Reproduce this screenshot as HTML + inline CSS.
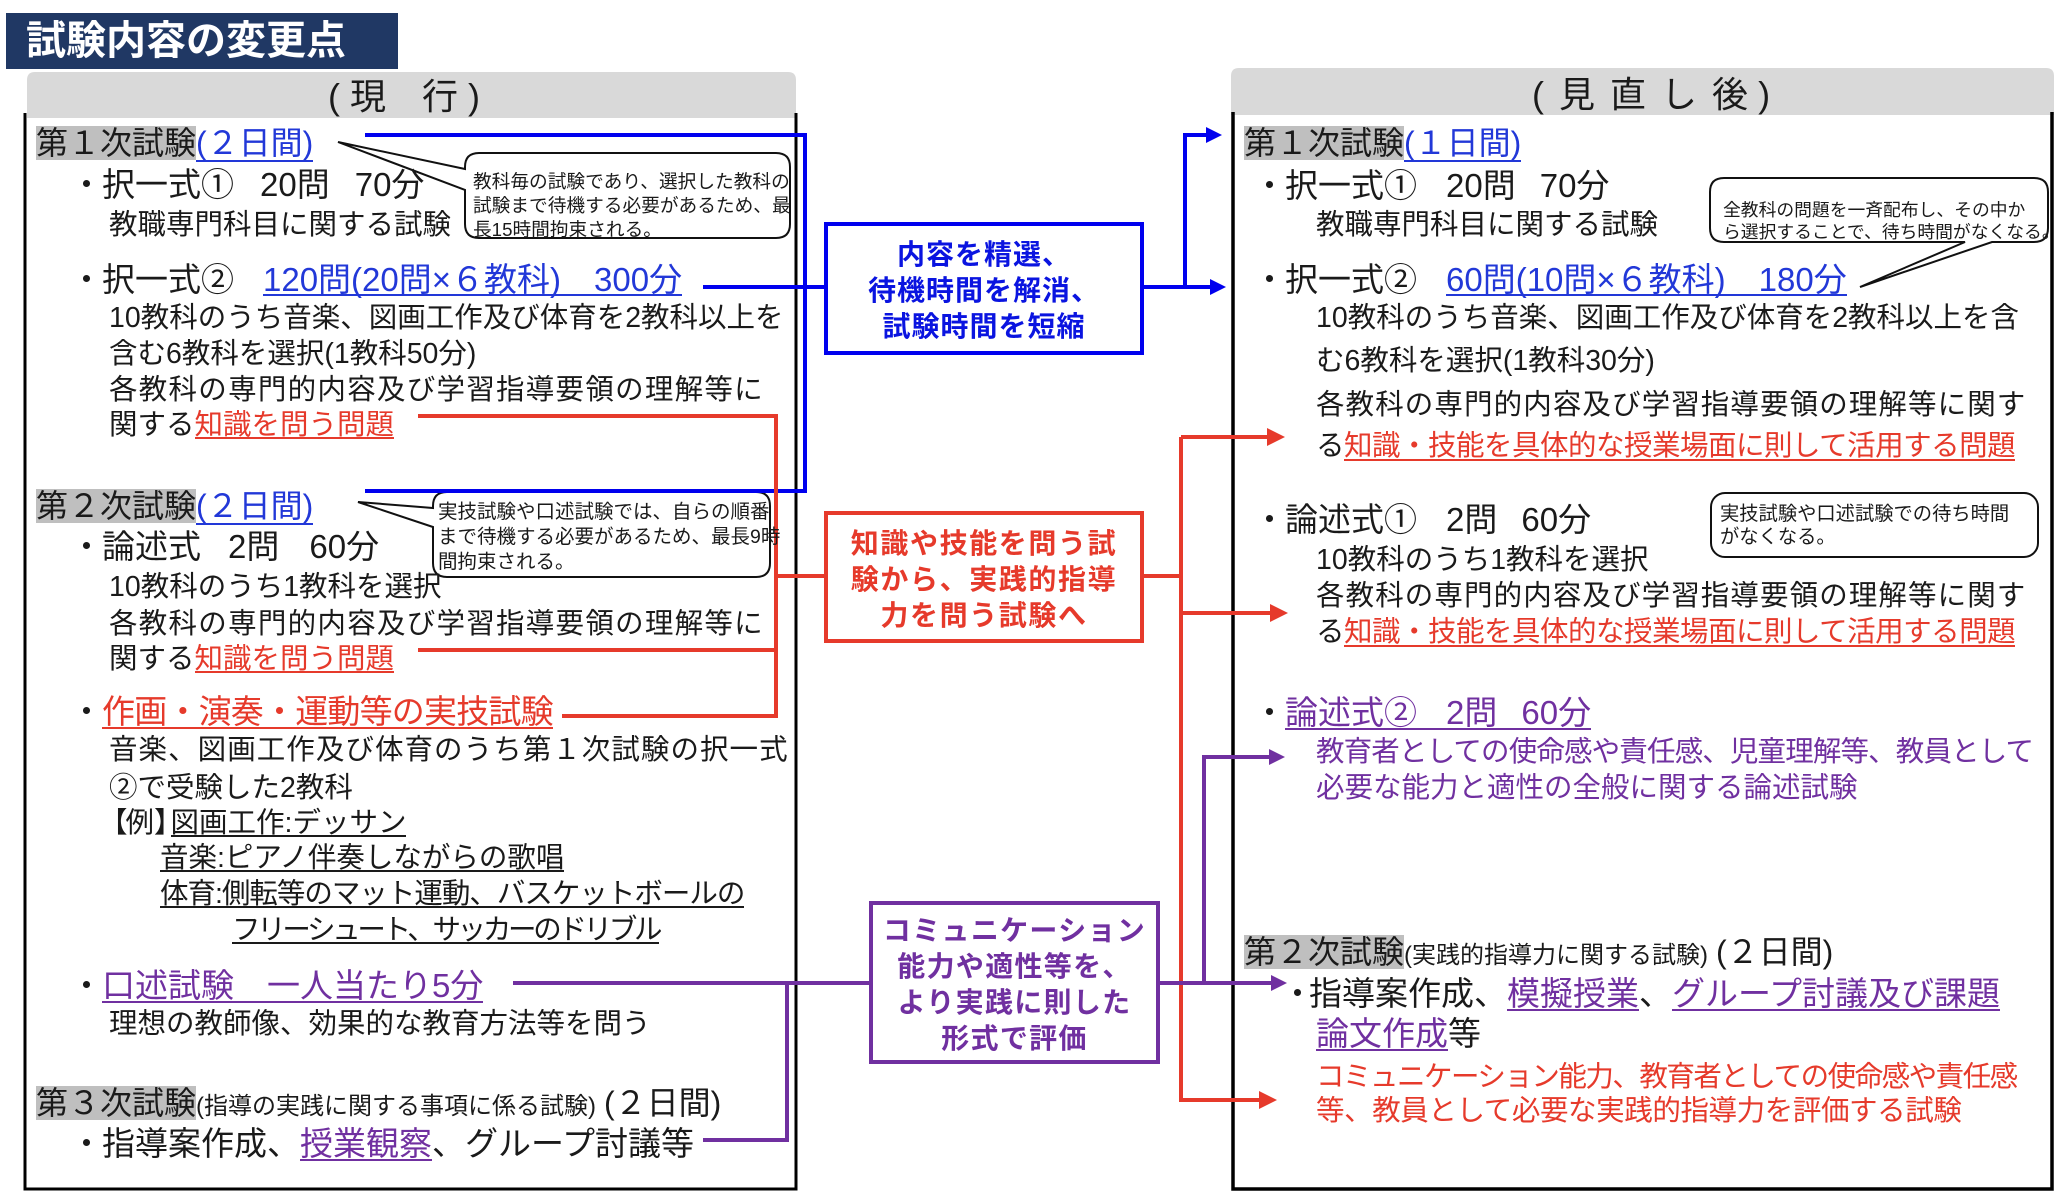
<!DOCTYPE html>
<html><head><meta charset="utf-8">
<style>
body{margin:0;}
#p{position:relative;width:2064px;height:1197px;overflow:hidden;background:#fff;font-family:"Liberation Sans","Noto Sans CJK JP",sans-serif;color:#1a1a1a}
svg{position:absolute;left:0;top:0}
.t{position:absolute;white-space:nowrap}
.h{font-size:32px;line-height:40px}
.i{font-size:33px;line-height:40px}
.b{font-size:28.5px;line-height:36px}
.g{display:inline-block;background:#bfbfbf;height:34px;line-height:34px}
.u{display:inline-block;border-bottom:2px solid currentColor}
.bl{position:absolute;left:-32px;color:#1a1a1a}
.B{color:#2238d8}.R{color:#e63a2b}.P{color:#7030a0}
.sm{font-size:24px}
.box{position:absolute;text-align:center;font-weight:bold;font-size:28px;line-height:36px;white-space:nowrap}
.c{position:absolute;white-space:nowrap;color:#1a1a1a}
</style></head>
<body><div id="p">
<svg width="2064" height="1197" viewBox="0 0 2064 1197">
  <rect x="6" y="13" width="392" height="56" fill="#203864"/>
  <path d="M27,118 V80 Q27,72 35,72 H788 Q796,72 796,80 V118 Z" fill="#d9d9d9"/>
  <path d="M1231,115 V76 Q1231,68 1239,68 H2046 Q2054,68 2054,76 V115 Z" fill="#d9d9d9"/>
  <path d="M25,113 V1189 H796 V113" fill="none" stroke="#000" stroke-width="3"/>
  <path d="M1233,112 V1189 H2052 V112" fill="none" stroke="#000" stroke-width="3.5"/>

  <!-- callouts -->
  <path d="M479,153 H776 Q790,153 790,167 V224 Q790,238 776,238 H479 Q465,238 465,224 V190 L338,142 L465,169 V167 Q465,153 479,153 Z" fill="#fff" stroke="#111" stroke-width="2"/>
  <path d="M447,492 H756 Q770,492 770,506 V563 Q770,577 756,577 H447 Q433,577 433,563 V527 L358,502 L433,508 V506 Q433,492 447,492 Z" fill="#fff" stroke="#111" stroke-width="2"/>
  <path d="M1724,178 H2034 Q2048,178 2048,192 V228 Q2048,242 2034,242 H1992 L1860,287 L1965,242 H1724 Q1710,242 1710,228 V192 Q1710,178 1724,178 Z" fill="#fff" stroke="#111" stroke-width="2"/>
  <rect x="1711" y="493" width="327" height="64" rx="14" fill="#fff" stroke="#111" stroke-width="2"/>

  <!-- blue -->
  <g stroke="#0000ee" stroke-width="4" fill="none">
    <polyline points="365,135 805,135 805,491 365,491"/>
    <line x1="703" y1="287" x2="826" y2="287"/>
    <line x1="1142" y1="287" x2="1212" y2="287"/>
    <polyline points="1185,287 1185,135 1208,135"/>
  </g>
  <polygon points="1206,127 1222,135 1206,143" fill="#0000ee"/>
  <polygon points="1210,279 1226,287 1210,295" fill="#0000ee"/>
  <rect x="826" y="224" width="316" height="129" fill="#fff" stroke="#0000ee" stroke-width="4"/>

  <!-- red -->
  <g stroke="#e63a2b" stroke-width="4" fill="none">
    <polyline points="418,416 776,416 776,716 562,716"/>
    <line x1="418" y1="650" x2="776" y2="650"/>
    <line x1="776" y1="576" x2="826" y2="576"/>
    <line x1="1142" y1="576" x2="1181" y2="576"/>
    <line x1="1181" y1="437" x2="1181" y2="1100"/>
    <line x1="1181" y1="437" x2="1269" y2="437"/>
    <line x1="1181" y1="613" x2="1272" y2="613"/>
    <line x1="1179" y1="1100" x2="1261" y2="1100"/>
  </g>
  <polygon points="1267,428 1285,437 1267,446" fill="#e63a2b"/>
  <polygon points="1270,604 1288,613 1270,622" fill="#e63a2b"/>
  <polygon points="1259,1091 1277,1100 1259,1109" fill="#e63a2b"/>
  <rect x="826" y="513" width="316" height="128" fill="#fff" stroke="#e63a2b" stroke-width="4"/>

  <!-- purple -->
  <g stroke="#7030a0" stroke-width="4" fill="none">
    <line x1="513" y1="983" x2="871" y2="983"/>
    <polyline points="787,983 787,1140 703,1140"/>
    <line x1="1158" y1="983" x2="1273" y2="983"/>
    <polyline points="1204,983 1204,757 1271,757"/>
  </g>
  <polygon points="1271,975 1287,983 1271,991" fill="#7030a0"/>
  <polygon points="1269,749 1285,757 1269,765" fill="#7030a0"/>
  <rect x="871" y="903" width="287" height="159" fill="#fff" stroke="#7030a0" stroke-width="4"/>
</svg>

<!-- title & headers -->
<div class="t" style="left:26px;top:13px;font-size:40px;line-height:56px;color:#fff;font-weight:bold">試験内容の変更点</div>
<div class="t" style="left:328px;top:75px;font-size:36px;line-height:44px">( 現　行 )</div>
<div class="t" style="left:1532px;top:73px;font-size:36px;line-height:44px">(<span style="margin-left:15px">見</span><span style="margin-left:15px">直</span><span style="margin-left:15px">し</span><span style="margin-left:15px">後</span><span style="margin-left:10px">)</span></div>

<!-- callout texts -->
<div class="c" style="left:473px;top:170px;font-size:18.7px;line-height:24px">教科毎の試験であり、選択した教科の<br>試験まで待機する必要があるため、最<br>長15時間拘束される。</div>
<div class="c" style="left:438px;top:500px;font-size:19.5px;line-height:25px">実技試験や口述試験では、自らの順番<br>まで待機する必要があるため、最長9時<br>間拘束される。</div>
<div class="c" style="left:1723px;top:199px;font-size:17.8px;line-height:22px">全教科の問題を一斉配布し、その中か<br>ら選択することで、待ち時間がなくなる。</div>
<div class="c" style="left:1720px;top:503px;font-size:19.3px;line-height:23px">実技試験や口述試験での待ち時間<br>がなくなる。</div>

<!-- center boxes -->
<div class="box" style="left:826px;width:316px;top:237px;color:#0a14e0;letter-spacing:1px">内容を精選、<br>待機時間を解消、<br>試験時間を短縮</div>
<div class="box" style="left:826px;width:316px;top:526px;color:#e63a2b;letter-spacing:1.6px">知識や技能を問う試<br>験から、実践的指導<br>力を問う試験へ</div>
<div class="box" style="left:871px;width:287px;top:913px;color:#7030a0;letter-spacing:1.3px">コミュニケーション<br>能力や適性等を、<br>より実践に則した<br>形式で評価</div>

<!-- LEFT PANEL -->
<div class="t h" style="left:36px;top:123px"><span class="g">第１次試験</span><span class="u B" style="line-height:34px">(２日間)</span></div>
<div class="t i" style="left:102px;top:165px"><span class="bl">・</span>択一式①<span style="margin-left:26px">20問</span><span style="margin-left:25px">70分</span></div>
<div class="t b" style="left:109px;top:207px">教職専門科目に関する試験</div>
<div class="t i" style="left:102px;top:260px"><span class="bl">・</span>択一式②<span class="u B" style="margin-left:29px;line-height:28px">120問(20問×６教科)　300分</span></div>
<div class="t b" style="left:109px;top:300px">10教科のうち音楽、図画工作及び体育を2教科以上を</div>
<div class="t b" style="left:109px;top:336px">含む6教科を選択(1教科50分)</div>
<div class="t b" style="left:109px;top:372px;letter-spacing:1.27px">各教科の専門的内容及び学習指導要領の理解等に</div>
<div class="t b" style="left:109px;top:407px">関する<span class="u R" style="line-height:24px">知識を問う問題</span></div>

<div class="t h" style="left:36px;top:486px"><span class="g">第２次試験</span><span class="u B" style="line-height:34px">(２日間)</span></div>
<div class="t i" style="left:102px;top:527px"><span class="bl">・</span>論述式<span style="margin-left:27px">2問</span><span style="margin-left:30px">60分</span></div>
<div class="t b" style="left:109px;top:569px">10教科のうち1教科を選択</div>
<div class="t b" style="left:109px;top:606px;letter-spacing:1.27px">各教科の専門的内容及び学習指導要領の理解等に</div>
<div class="t b" style="left:109px;top:641px">関する<span class="u R" style="line-height:24px">知識を問う問題</span></div>
<div class="t i" style="left:102px;top:692px"><span class="bl">・</span><span class="u R" style="line-height:30px;letter-spacing:-0.8px">作画・演奏・運動等の実技試験</span></div>
<div class="t b" style="left:109px;top:732px;letter-spacing:1.05px">音楽、図画工作及び体育のうち第１次試験の択一式</div>
<div class="t b" style="left:109px;top:770px">②で受験した2教科</div>
<div class="t b" style="left:109px;top:805px"><span style="margin-left:-10px;margin-right:-2px">【</span>例<span style="margin-right:-12px">】</span><span class="u" style="line-height:24px">図画工作:デッサン</span></div>
<div class="t b" style="left:160px;top:840px"><span class="u" style="line-height:24px">音楽:ピアノ伴奏しながらの歌唱</span></div>
<div class="t b" style="left:160px;top:876px;letter-spacing:-1px"><span class="u" style="line-height:24px">体育:側転等のマット運動、バスケットボールの</span></div>
<div class="t b" style="left:232px;top:912px;letter-spacing:-3.3px"><span class="u" style="line-height:24px">フリーシュート、サッカーのドリブル</span></div>
<div class="t i" style="left:102px;top:966px"><span class="bl">・</span><span class="u P" style="line-height:30px">口述試験　一人当たり5分</span></div>
<div class="t b" style="left:109px;top:1006px">理想の教師像、効果的な教育方法等を問う</div>
<div class="t h" style="left:36px;top:1083px"><span class="g">第３次試験</span><span class="sm">(指導の実践に関する事項に係る試験)</span><span style="margin-left:8px">(２日間)</span></div>
<div class="t i" style="left:102px;top:1124px"><span class="bl">・</span>指導案作成、<span class="u P" style="line-height:30px">授業観察</span>、グループ討議等</div>

<!-- RIGHT PANEL -->
<div class="t h" style="left:1244px;top:123px"><span class="g">第１次試験</span><span class="u B" style="line-height:34px">(１日間)</span></div>
<div class="t i" style="left:1285px;top:166px"><span class="bl">・</span>択一式①<span style="margin-left:29px">20問</span><span style="margin-left:24px">70分</span></div>
<div class="t b" style="left:1316px;top:207px">教職専門科目に関する試験</div>
<div class="t i" style="left:1285px;top:260px"><span class="bl">・</span>択一式②<span class="u B" style="margin-left:29px;line-height:28px">60問(10問×６教科)　180分</span></div>
<div class="t b" style="left:1316px;top:300px">10教科のうち音楽、図画工作及び体育を2教科以上を含</div>
<div class="t b" style="left:1316px;top:343px">む6教科を選択(1教科30分)</div>
<div class="t b" style="left:1316px;top:387px;letter-spacing:1.1px">各教科の専門的内容及び学習指導要領の理解等に関す</div>
<div class="t b" style="left:1316px;top:428px;letter-spacing:-0.5px">る<span class="u R" style="line-height:26px">知識・技能を具体的な授業場面に則して活用する問題</span></div>
<div class="t i" style="left:1285px;top:500px"><span class="bl">・</span>論述式①<span style="margin-left:29px">2問</span><span style="margin-left:24px">60分</span></div>
<div class="t b" style="left:1316px;top:542px">10教科のうち1教科を選択</div>
<div class="t b" style="left:1316px;top:578px;letter-spacing:1.1px">各教科の専門的内容及び学習指導要領の理解等に関す</div>
<div class="t b" style="left:1316px;top:614px;letter-spacing:-0.5px">る<span class="u R" style="line-height:26px">知識・技能を具体的な授業場面に則して活用する問題</span></div>
<div class="t i" style="left:1285px;top:693px"><span class="bl">・</span><span class="u P" style="line-height:30px">論述式②<span style="margin-left:29px">2問</span><span style="margin-left:24px">60分</span></span></div>
<div class="t b P" style="left:1316px;top:734px;letter-spacing:-0.85px">教育者としての使命感や責任感、児童理解等、教員として</div>
<div class="t b P" style="left:1316px;top:770px">必要な能力と適性の全般に関する論述試験</div>
<div class="t h" style="left:1244px;top:932px"><span class="g">第２次試験</span><span class="sm">(実践的指導力に関する試験)</span><span style="margin-left:8px">(２日間)</span></div>
<div class="t i" style="left:1309px;top:974px"><span class="bl" style="left:-28px">・</span>指導案作成、<span class="u P" style="line-height:30px">模擬授業</span>、<span class="u P" style="line-height:30px">グループ討議及び課題</span></div>
<div class="t i" style="left:1316px;top:1014px"><span class="u P" style="line-height:30px">論文作成</span>等</div>
<div class="t b R" style="left:1316px;top:1059px;letter-spacing:-1.5px">コミュニケーション能力、教育者としての使命感や責任感</div>
<div class="t b R" style="left:1316px;top:1093px;letter-spacing:-0.4px">等、教員として必要な実践的指導力を評価する試験</div>
</div></body></html>
